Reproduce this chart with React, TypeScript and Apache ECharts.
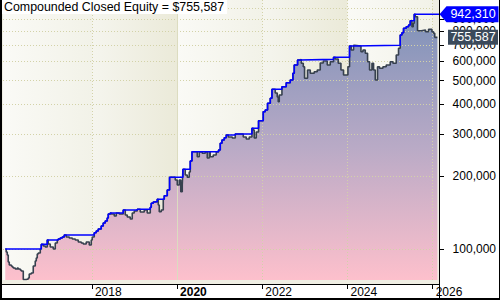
import React, { useEffect, useRef } from 'react';
import * as echarts from 'echarts';

const TITLE_PREFIX = 'Compounded Closed Equity = $';
const X_MIN = 2015.913;
const X_MAX = 2026.148;
const DATA_END = 2026;
const Y_MIN = 74350;
const Y_MAX = 1079600;
const X_TICKS = [2018, 2020, 2022, 2024, 2026];
const BOLD_YEAR = 2020;
const Y_TICKS = [100000, 200000, 300000, 400000, 500000, 600000, 700000, 800000, 900000, 1000000];
const BAND_EDGES = [X_MIN, 2018, 2020, 2022, 2024, 2026];

// Compounded closed equity (step changes), time in decimal years
const EQ_T = [
  2015.966, 2015.989, 2016.013, 2016.036, 2016.060, 2016.107, 2016.130, 2016.154, 2016.201, 2016.248,
  2016.271, 2016.318, 2016.342, 2016.389, 2016.459, 2016.506, 2016.529, 2016.576, 2016.623, 2016.670,
  2016.694, 2016.717, 2016.741, 2016.788, 2016.811, 2016.858, 2016.905, 2016.952, 2016.975, 2017.022,
  2017.093, 2017.140, 2017.187, 2017.210, 2017.257, 2017.304, 2017.351, 2017.398, 2017.468, 2017.539,
  2017.609, 2017.680, 2017.750, 2017.797, 2017.867, 2017.938, 2017.985, 2018.008, 2018.055, 2018.102,
  2018.149, 2018.219, 2018.266, 2018.313, 2018.360, 2018.384, 2018.431, 2018.454, 2018.525, 2018.572,
  2018.642, 2018.736, 2018.783, 2018.830, 2018.900, 2018.947, 2018.994, 2019.065, 2019.135, 2019.229,
  2019.299, 2019.370, 2019.393, 2019.440, 2019.464, 2019.534, 2019.558, 2019.581, 2019.628, 2019.675,
  2019.698, 2019.769, 2019.823, 2019.957, 2020.004, 2020.051, 2020.086, 2020.121, 2020.137, 2020.191,
  2020.238, 2020.285, 2020.309, 2020.349, 2020.473, 2020.520, 2020.590, 2020.661, 2020.708, 2020.755,
  2020.778, 2020.848, 2020.919, 2020.973, 2021.013, 2021.053, 2021.107, 2021.154, 2021.201, 2021.295,
  2021.365, 2021.553, 2021.623, 2021.694, 2021.757, 2021.788, 2021.811, 2021.858, 2021.912, 2022.022,
  2022.069, 2022.123, 2022.187, 2022.227, 2022.304, 2022.351, 2022.374, 2022.398, 2022.461, 2022.562,
  2022.656, 2022.719, 2022.750, 2022.828, 2022.891, 2022.915, 2022.962, 2022.992, 2023.062, 2023.126,
  2023.219, 2023.290, 2023.360, 2023.431, 2023.525, 2023.595, 2023.673, 2023.712, 2023.783, 2023.846,
  2023.907, 2024.010, 2024.048, 2024.087, 2024.142, 2024.170, 2024.316, 2024.363, 2024.417, 2024.471,
  2024.518, 2024.574, 2024.612, 2024.652, 2024.705, 2024.752, 2024.832, 2024.909, 2025.003, 2025.067,
  2025.144, 2025.198, 2025.238, 2025.278, 2025.316, 2025.379, 2025.433, 2025.473, 2025.513, 2025.543,
  2025.567, 2025.591, 2025.644, 2025.731, 2025.832, 2025.903, 2025.982, 2026.020, 2026.048, 2026.110,
];
const EQ_V = [
  100000, 97200, 94400, 88300, 85800, 85000, 84200, 83400, 82600, 83400,
  82600, 81800, 81000, 74700, 75100, 75800, 78700, 79500, 85000, 89100,
  91800, 95300, 96300, 100000, 104500, 102900, 101900, 109000, 104900, 101900,
  100000, 105900, 109000, 110000, 111100, 112100, 114300, 112100, 111100, 110000,
  109000, 106900, 105900, 104900, 106900, 103900, 109000, 112100, 116800, 118800,
  121000, 124600, 128200, 130700, 134500, 139700, 141000, 139700, 137100, 141000,
  139700, 145100, 138400, 135800, 133200, 141000, 143800, 146100, 142400, 145100,
  141000, 149000, 154800, 156700, 157200, 160800, 152300, 142800, 145100, 161200,
  166400, 175800, 198400, 193400, 184300, 193400, 172900, 184300, 214200, 202900,
  198400, 208700, 231800, 253400, 241500, 252600, 249500, 252600, 238600, 253400,
  241500, 245500, 252600, 257500, 274500, 283300, 289600, 297200, 291500, 288800,
  300000, 291500, 286000, 291500, 316800, 311700, 288800, 305900, 340700, 371300,
  377400, 402400, 422100, 460000, 444000, 427300, 408600, 435500, 471500, 489900,
  502700, 535900, 580000, 608400, 612400, 589500, 570700, 511000, 553000, 535900,
  544100, 553000, 591200, 602600, 580000, 598600, 624300, 614200, 589500, 553000,
  527300, 570700, 695700, 669600, 700300, 695700, 658800, 669600, 648800, 598600,
  553000, 589500, 553000, 502700, 570700, 562000, 570700, 580000, 598600, 589500,
  638300, 680500, 772700, 789800, 823700, 836400, 850100, 885800, 836400, 864100,
  942310, 920300, 805100, 810500, 797400, 815900, 797400, 785300, 755587, 755587,
];

// Closed equity peak (step changes)
const PEAK_T = [
  2015.966, 2016.811, 2016.952, 2017.210, 2017.257, 2017.304, 2017.351, 2018.055, 2018.102, 2018.149,
  2018.219, 2018.266, 2018.313, 2018.360, 2018.384, 2018.431, 2018.736, 2019.065, 2019.370, 2019.393,
  2019.440, 2019.464, 2019.534, 2019.698, 2019.769, 2019.823, 2020.137, 2020.309, 2020.349, 2020.973,
  2021.013, 2021.053, 2021.107, 2021.154, 2021.365, 2021.757, 2021.912, 2022.022, 2022.069, 2022.123,
  2022.187, 2022.227, 2022.461, 2022.562, 2022.656, 2022.719, 2022.750, 2022.828, 2022.891, 2023.673,
  2024.048, 2024.142, 2025.238, 2025.278, 2025.316, 2025.379, 2025.433, 2025.473, 2025.567, 2026.148,
];
const PEAK_V = [
  100000, 104500, 109000, 110000, 111100, 112100, 114300, 116800, 118800, 121000,
  124600, 128200, 130700, 134500, 139700, 141000, 145100, 146100, 149000, 154800,
  156700, 157200, 160800, 166400, 175800, 198400, 214200, 231800, 253400, 257500,
  274500, 283300, 289600, 297200, 300000, 316800, 340700, 371300, 377400, 402400,
  422100, 460000, 471500, 489900, 502700, 535900, 580000, 608400, 612400, 624300,
  695700, 700300, 772700, 789800, 823700, 836400, 850100, 885800, 942310, 942310,
];

const FONT = '"Liberation Sans", Arial, sans-serif';
const lg = (v: number) => Math.log10(v);
const fmt = (n: number) => String(Math.round(n)).replace(/\B(?=(\d{3})+(?!\d))/g, ',');

export default function App() {
  const ref = useRef<HTMLDivElement>(null);
  useEffect(() => {
    document.body.style.margin = '0';
    if (!ref.current) return;
    const chart = echarts.init(ref.current, undefined, { renderer: 'svg' });
    const eqData = EQ_T.map((t, i) => [t, lg(EQ_V[i])]);
    const peakData = PEAK_T.map((t, i) => [t, lg(PEAK_V[i])]);
    const lastEq = EQ_V[EQ_V.length - 1];
    const maxPeak = Math.max(...PEAK_V);
    const yLo = lg(Y_MIN);
    const yHi = lg(Y_MAX);

    const bands = [];
    for (let i = 0; i < BAND_EDGES.length - 1; i++) {
      const dark = i % 2 === 1;
      bands.push([
        {
          coord: [BAND_EDGES[i], yLo],
          itemStyle: {
            color: {
              type: 'linear', x: 0, y: 0, x2: 1, y2: 0,
              colorStops: dark
                ? [{ offset: 0, color: '#f5f5ee' }, { offset: 1, color: '#ebead9' }]
                : [{ offset: 0, color: '#fafaf6' }, { offset: 1, color: '#f2f2e8' }],
            },
          },
        },
        { coord: [BAND_EDGES[i + 1], yHi] },
      ]);
    }
    const dotted = { type: [1, 2], color: '#d3d2a8', width: 1 };
    const gridLines: any[] = [];
    Y_TICKS.forEach((v) => {
      gridLines.push([{ coord: [X_MIN, lg(v)], lineStyle: dotted }, { coord: [DATA_END, lg(v)] }]);
    });
    X_TICKS.forEach((t) => {
      gridLines.push([
        { coord: [t, yLo], lineStyle: t === BOLD_YEAR ? { type: 'solid', color: '#dcdcc0', width: 1 } : dotted },
        { coord: [t, yHi] },
      ]);
    });

    chart.setOption({
      animation: false,
      backgroundColor: '#ffffff',
      textStyle: { fontFamily: FONT },
      title: {
        text: TITLE_PREFIX + fmt(lastEq),
        left: 2,
        top: 0,
        padding: [1, 3, 1, 2],
        backgroundColor: '#ffffff',
        textStyle: { fontSize: 12.4, fontWeight: 'normal', color: '#000', fontFamily: FONT },
      },
      grid: { left: 3, right: 61, top: 0, bottom: 20, containLabel: false },
      graphic: [
        { type: 'rect', z: 0, shape: { x: 2, y: 0, width: 437, height: 284 }, style: { fill: '#efeee3' }, silent: true },
        { type: 'line', z: 100, shape: { x1: 0, y1: 284.5, x2: 439.5, y2: 284.5 }, style: { stroke: '#000', lineWidth: 1 } },
        { type: 'line', z: 100, shape: { x1: 439.5, y1: 0, x2: 439.5, y2: 300 }, style: { stroke: '#000', lineWidth: 1 } },
        { type: 'line', z: 100, shape: { x1: 1, y1: 0, x2: 1, y2: 300 }, style: { stroke: '#000', lineWidth: 2 } },
        { type: 'line', z: 100, shape: { x1: 0, y1: 299, x2: 500, y2: 299 }, style: { stroke: '#000', lineWidth: 2 } },
        { type: 'line', z: 100, shape: { x1: 499.5, y1: 0, x2: 499.5, y2: 300 }, style: { stroke: '#000', lineWidth: 1 } },
      ],
      xAxis: {
        type: 'value',
        min: X_MIN,
        max: X_MAX,
        position: 'bottom',
        offset: 4,
        axisLine: { show: false },
        splitLine: { show: false },
        axisTick: { show: true, length: 5, customValues: X_TICKS, lineStyle: { color: '#000' } },
        axisLabel: {
          customValues: X_TICKS,
          align: 'left',
          margin: 2,
          padding: [0, 0, 0, 3],
          color: '#000',
          fontSize: 12,
          fontFamily: FONT,
          formatter: (v: number) => (Math.round(v) === BOLD_YEAR ? '{b|' + Math.round(v) + '}' : String(Math.round(v))),
          rich: { b: { fontWeight: 'bold', fontSize: 12, color: '#000', fontFamily: FONT } },
        },
      },
      yAxis: {
        type: 'value',
        position: 'right',
        min: yLo,
        max: yHi,
        axisLine: { show: false },
        splitLine: { show: false },
        axisTick: { show: true, length: 5, customValues: Y_TICKS.map(lg), lineStyle: { color: '#000' } },
        axisLabel: {
          customValues: Y_TICKS.map(lg),
          align: 'right',
          margin: 57,
          color: '#000',
          fontSize: 12,
          fontFamily: FONT,
          formatter: (v: number) => {
            const n = Math.round(Math.pow(10, v) / 1000) * 1000;
            return n >= 1000000 ? n / 1000000 + 'M' : fmt(n);
          },
        },
      },
      series: [
        {
          type: 'line',
          name: 'fill',
          z: 2,
          data: eqData,
          step: 'end',
          symbol: 'none',
          silent: true,
          lineStyle: { width: 0, opacity: 0 },
          areaStyle: {
            origin: 'start',
            opacity: 1,
            color: {
              type: 'linear', x: 0, y: 0, x2: 0, y2: 1,
              colorStops: [
                { offset: 0, color: '#7f92b9' },
                { offset: 0.5, color: '#b9aac6' },
                { offset: 1, color: '#fdc0cc' },
              ],
            },
          },
          markArea: { silent: true, z: 1, label: { show: false }, data: bands },
          markLine: { silent: true, z: 3, symbol: ['none', 'none'], label: { show: false }, data: gridLines },
        },
        {
          type: 'line',
          name: 'equity',
          z: 4,
          data: eqData,
          step: 'end',
          symbol: 'none',
          silent: true,
          lineStyle: { color: '#37414f', width: 1.6 },
        },
        {
          type: 'line',
          name: 'peak',
          z: 5,
          data: peakData,
          step: 'end',
          symbol: 'none',
          silent: true,
          lineStyle: { color: '#0000ff', width: 1.6 },
          markPoint: {
            z: 10,
            silent: true,
            data: [
              {
                coord: [X_MAX, lg(maxPeak)],
                symbol: 'path://M0,8L7,0L59,0L59,16L7,16Z',
                symbolSize: [59, 16],
                symbolKeepAspect: false,
                symbolOffset: [30, 0],
                itemStyle: { color: '#0000ff' },
                label: { show: true, position: 'inside', offset: [4, 0], formatter: fmt(maxPeak), color: '#fff', fontSize: 12.5, fontFamily: FONT },
              },
              {
                coord: [X_MAX, lg(lastEq)],
                symbol: 'rect',
                symbolSize: [50, 15],
                symbolOffset: [34, 0],
                itemStyle: { color: '#3b4a5b' },
                label: { show: true, position: 'inside', formatter: fmt(lastEq), color: '#fff', fontSize: 12.5, fontFamily: FONT },
              },
            ],
          },
        },
      ],
    });
    return () => chart.dispose();
  }, []);
  return <div ref={ref} style={{ width: 500, height: 300 }} />;
}
